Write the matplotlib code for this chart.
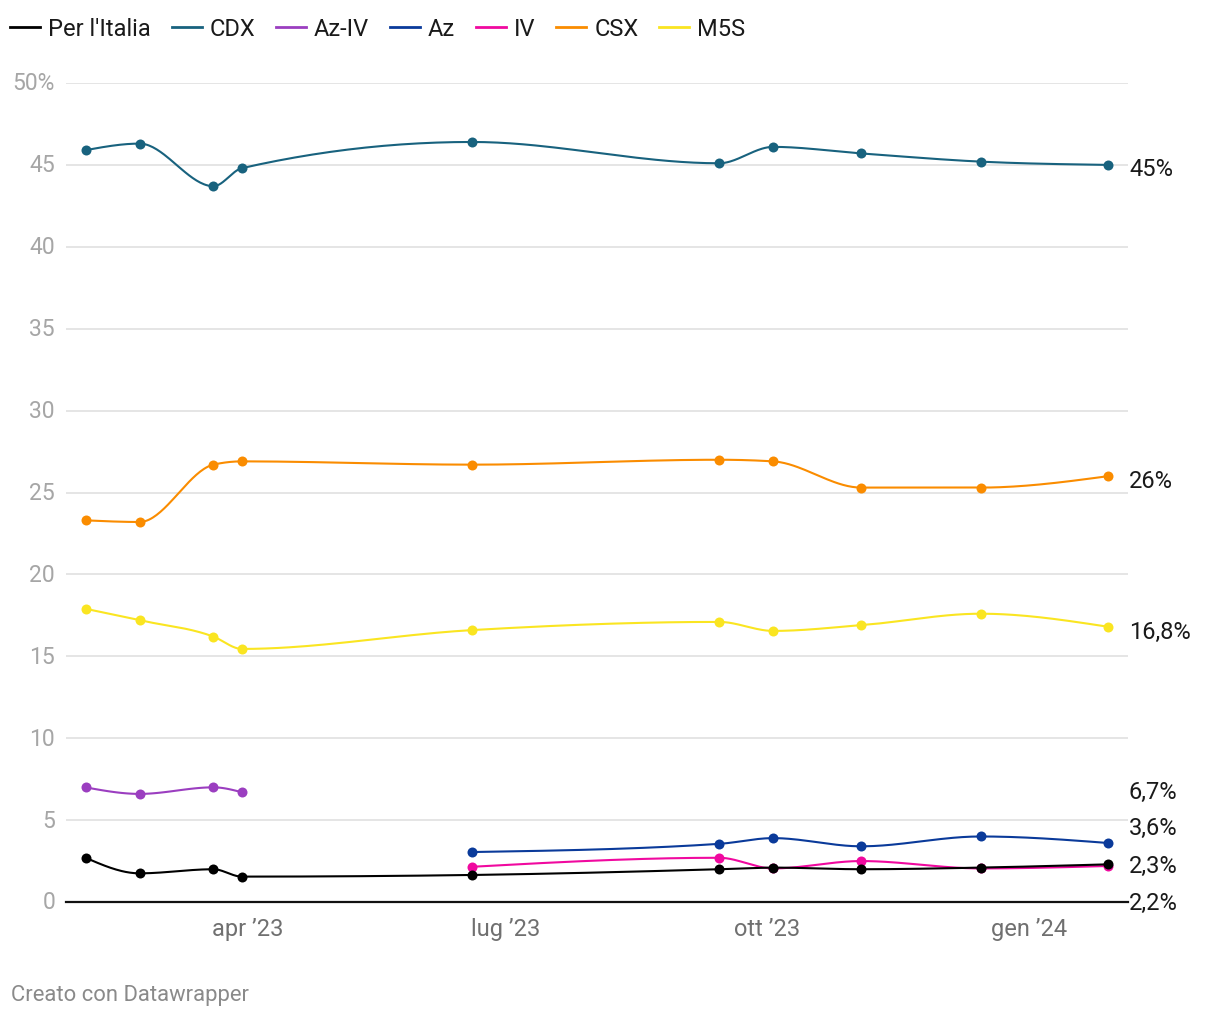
import numpy as np
import pandas as pd
import matplotlib
matplotlib.use("Agg")
import matplotlib.pyplot as plt
import matplotlib.dates as mdates
from matplotlib.lines import Line2D
from matplotlib.transforms import blended_transform_factory

plt.rcParams['font.family'] = ['Roboto', 'DejaVu Sans']

# ---------------- data ----------------
dates = ["2023-02-03", "2023-02-22", "2023-03-20", "2023-03-30", "2023-06-19",
         "2023-09-14", "2023-10-03", "2023-11-03", "2023-12-15", "2024-01-29"]
per_italia = [2.7, 1.75, 2.0, 1.55, 1.65, 2.0, 2.1, 2.0, 2.1, 2.3]
cdx = [45.9, 46.3, 43.7, 44.8, 46.4, 45.1, 46.1, 45.7, 45.2, 45.0]
az_iv = [7.0, 6.6, 7.0, 6.7, None, None, None, None, None, None]
az = [None, None, None, None, 3.05, 3.55, 3.9, 3.4, 4.0, 3.6]
iv = [None, None, None, None, 2.15, 2.7, 2.05, 2.5, 2.05, 2.2]
csx = [23.3, 23.2, 26.7, 26.9, 26.7, 27.0, 26.9, 25.3, 25.3, 26.0]
m5s = [17.9, 17.2, 16.2, 15.45, 16.6, 17.1, 16.55, 16.9, 17.6, 16.8]

series_names = ["Per l'Italia", "CDX", "Az-IV", "Az", "IV", "CSX", "M5S"]
series_vals = [per_italia, cdx, az_iv, az, iv, csx, m5s]
end_labels = ["2,3%", "45%", "6,7%", "3,6%", "2,2%", "26%", "16,8%"]

y_ticks = [0, 5, 10, 15, 20, 25, 30, 35, 40, 45, 50]
y_tick_labels = ["0", "5", "10", "15", "20", "25", "30", "35", "40", "45", "50%"]
x_ticks = ["2023-04-01", "2023-07-01", "2023-10-01", "2024-01-01"]
x_tick_labels = ["apr \u201923", "lug \u201923", "ott \u201923", "gen \u201924"]

# ---------------- style ----------------
colors = {"Per l'Italia": "#000000", "CDX": "#18627e", "Az-IV": "#9b3ec0",
          "Az": "#0a3a9a", "IV": "#f0099f", "CSX": "#fa8c00", "M5S": "#fae521"}
draw_order = ["M5S", "CSX", "IV", "Az", "Az-IV", "CDX", "Per l'Italia"]


def monotone_x(x, y, n=40):
    x = np.asarray(x, float)
    y = np.asarray(y, float)
    m = len(x)
    if m < 2:
        return x, y
    h = np.diff(x)
    s = np.diff(y) / h
    t = np.zeros(m)
    for i in range(1, m - 1):
        h0, h1 = h[i - 1], h[i]
        s0, s1 = s[i - 1], s[i]
        p = (s0 * h1 + s1 * h0) / (h0 + h1)
        t[i] = (np.sign(s0) + np.sign(s1)) * min(abs(s0), abs(s1), 0.5 * abs(p))
    if m > 2:
        t[0] = (3 * s[0] - t[1]) / 2
        t[-1] = (3 * s[-1] - t[-2]) / 2
    else:
        t[0] = t[-1] = s[0]
    xs, ys = [], []
    for i in range(m - 1):
        u = np.linspace(0, 1, n)
        dx = h[i]
        h00 = 2 * u**3 - 3 * u**2 + 1
        h10 = u**3 - 2 * u**2 + u
        h01 = -2 * u**3 + 3 * u**2
        h11 = u**3 - u**2
        yy = h00 * y[i] + h10 * dx * t[i] + h01 * y[i + 1] + h11 * dx * t[i + 1]
        xx = x[i] + u * dx
        xs.append(xx if i == 0 else xx[1:])
        ys.append(yy if i == 0 else yy[1:])
    return np.concatenate(xs), np.concatenate(ys)


W, H = 1220, 1020
fig = plt.figure(figsize=(W / 100, H / 100), dpi=100)
fig.patch.set_facecolor("white")
ax_left, ax_right, ax_top, ax_bottom = 66, 1128, 84, 903
ax = fig.add_axes([ax_left / W, 1 - ax_bottom / H, (ax_right - ax_left) / W,
                   (ax_bottom - ax_top) / H])
ax.set_facecolor("none")
for sp in ax.spines.values():
    sp.set_visible(False)
ax.set_xticks([])
ax.set_yticks([])

xnum = mdates.date2num(pd.to_datetime(dates))
ax.set_xlim(mdates.date2num(pd.Timestamp("2023-01-27")) + 0.1,
            mdates.date2num(pd.Timestamp("2024-02-05")) - 0.1)
ax.set_ylim(0, 50)

# grid
for yv in y_ticks:
    if yv == 0:
        ax.axhline(0, color="#111111", lw=1.6, zorder=5, clip_on=False)
    else:
        ax.axhline(yv, color="#e3e3e3", lw=1.3, zorder=0)

tr_y = blended_transform_factory(fig.transFigure, ax.transData)
for yv, lab in zip(y_ticks, y_tick_labels):
    ax.text(55 / W, yv, lab, transform=tr_y, ha="right", va="center",
            fontsize=16.5, color="#a6a6a6")

tr_x = blended_transform_factory(ax.transData, fig.transFigure)
for d, lab in zip(x_ticks, x_tick_labels):
    ax.text(mdates.date2num(pd.Timestamp(d)), 1 - 930 / H, lab, transform=tr_x,
            ha="center", va="center", fontsize=17, color="#707070")

# lines
vals_by_name = dict(zip(series_names, series_vals))
for name in draw_order:
    v = vals_by_name[name]
    mask = np.array([val is not None for val in v])
    xx = xnum[mask]
    yy = np.array([val for val in v if val is not None], float)
    sx, sy = monotone_x(xx, yy)
    z = 3 + draw_order.index(name) * 0.1
    ax.plot(sx, sy, color=colors[name], lw=1.5, zorder=z, solid_capstyle="round")
    ax.plot(xx, yy, "o", color=colors[name], ms=7.2, zorder=z + 0.05,
            markeredgewidth=0)

# end labels (dodged vertically in pixel space)
label_center_px = {"CDX": 170, "CSX": 482, "M5S": 632, "Az-IV": 792,
                   "Az": 828, "Per l'Italia": 866, "IV": 903}
for name, lab in zip(series_names, end_labels):
    ypx = label_center_px[name]
    fig.text(1129 / W, 1 - ypx / H, lab, ha="left", va="center",
             fontsize=17, color="#1a1a1a")

# legend
handles = [Line2D([], [], color=colors[n], lw=2) for n in series_names]
fig.legend(handles, series_names, loc="center left",
           bbox_to_anchor=(10 / W, 1 - 30 / H), ncol=7, frameon=False,
           fontsize=17, handlelength=1.27, handletextpad=0.34,
           columnspacing=0.88, borderaxespad=0, borderpad=0)
for t in fig.legends[0].get_texts():
    t.set_color("#1a1a1a")

fig.text(11 / W, 1 - 996 / H, "Creato con Datawrapper", ha="left", va="center",
         fontsize=15.8, color="#8a8a8a")

fig.savefig("out.png", dpi=100, facecolor="white")
